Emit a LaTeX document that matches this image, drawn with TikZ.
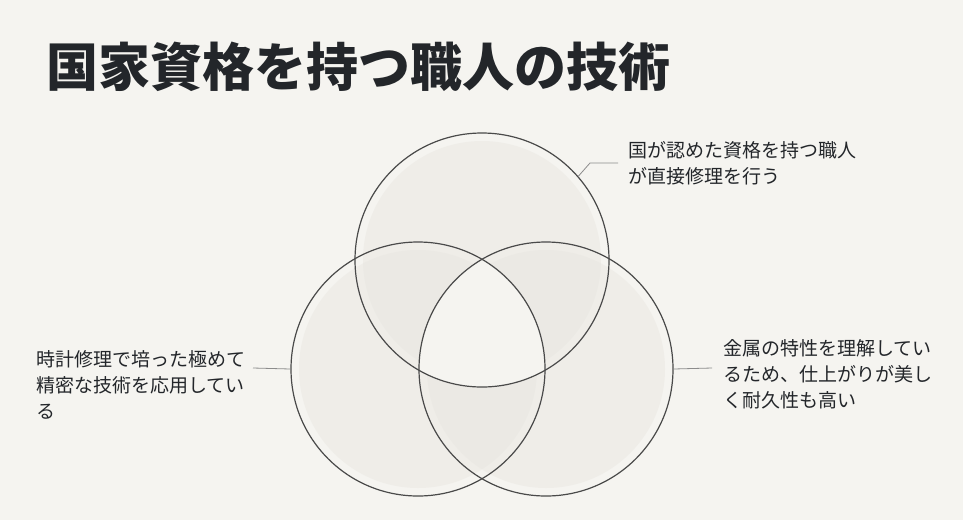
\documentclass[tikz,border=0pt]{standalone}
\usepackage{fontspec}
\setmainfont{Noto Sans CJK JP}
\usetikzlibrary{positioning}
\definecolor{paper}{HTML}{F5F4F0}
\definecolor{ink}{HTML}{23262A}
\definecolor{rim}{HTML}{4A4A4A}
\definecolor{tint}{HTML}{E6E4DE}
\definecolor{lead}{HTML}{8C8C8C}

\begin{document}
\begin{tikzpicture}[x=1pt, y=-1pt,
    ring/.style={circle, draw=rim, line width=1.2pt, minimum size=254pt, inner sep=0pt},
    note/.style={font=\fontsize{19}{26}\selectfont, text=ink, align=left, inner sep=0pt},
    leader/.style={draw=lead, line width=0.8pt}]
  \fill[paper] (0,0) rectangle (963,520);
  \useasboundingbox (0,0) rectangle (963,520);

  % title
  \node[anchor=west, inner sep=0pt, text=ink, font=\fontsize{52}{52}\selectfont\bfseries] (title) at (46,67) {国家資格を持つ職人の技術};

  % soft fills inside the rings
  \foreach \c in {(482,260),(418,369),(546,369)}
    \fill[tint, opacity=0.4] \c circle (119pt);
  \begin{scope}
    \clip (482,260) circle (127pt);
    \clip (418,369) circle (127pt);
    \fill[paper] (546,369) circle (127pt);
  \end{scope}

  % the three sets
  \node[ring] (quals) at (482,260) {};
  \node[ring] (watch) at (418,369) {};
  \node[ring] (metal) at (546,369) {};

  % notes
  \node[note, anchor=west] (qnote) at (628,163) {国が認めた資格を持つ職人\\が直接修理を行う};
  \node[note, anchor=west] (wnote) at (36,385) {時計修理で培った極めて\\精密な技術を応用してい\\る};
  \node[note, anchor=west] (mnote) at (723,374) {金属の特性を理解してい\\るため、仕上がりが美し\\く耐久性も高い};

  \coordinate (qbend) at (590,163);
  \coordinate (qend) at (618,163);
  \coordinate (wend) at (253,368);
  \coordinate (mend) at (712,368);

  \draw[leader] (quals.41) -- (qbend) -- (qend);
  \draw[leader] (watch.west) -- (wend);
  \draw[leader] (metal.east) -- (mend);
\end{tikzpicture}
\end{document}
